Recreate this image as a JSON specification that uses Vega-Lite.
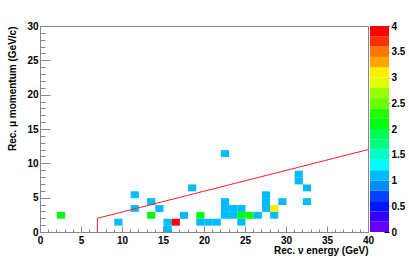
{
  "$schema": "https://vega.github.io/schema/vega-lite/v6.json",
  "padding": {"left": 6, "top": 20, "right": 0, "bottom": 0},
  "background": "white",
  "bounds": "flush",
  "datasets": {
    "cells": [
      {"e": 2, "p": 2, "n": 2},
      {"e": 9, "p": 1, "n": 1},
      {"e": 11, "p": 5, "n": 1},
      {"e": 11, "p": 3, "n": 1},
      {"e": 13, "p": 4, "n": 1},
      {"e": 13, "p": 2, "n": 2},
      {"e": 14, "p": 3, "n": 1},
      {"e": 15, "p": 1, "n": 1},
      {"e": 15, "p": 0, "n": 1},
      {"e": 16, "p": 1, "n": 4},
      {"e": 17, "p": 2, "n": 1},
      {"e": 18, "p": 6, "n": 1},
      {"e": 19, "p": 2, "n": 2},
      {"e": 19, "p": 1, "n": 1},
      {"e": 20, "p": 1, "n": 1},
      {"e": 21, "p": 1, "n": 1},
      {"e": 22, "p": 11, "n": 1},
      {"e": 22, "p": 4, "n": 1},
      {"e": 22, "p": 3, "n": 1},
      {"e": 22, "p": 2, "n": 1},
      {"e": 23, "p": 3, "n": 1},
      {"e": 23, "p": 2, "n": 1},
      {"e": 24, "p": 3, "n": 1},
      {"e": 24, "p": 2, "n": 2},
      {"e": 24, "p": 1, "n": 1},
      {"e": 25, "p": 2, "n": 2},
      {"e": 26, "p": 2, "n": 1},
      {"e": 27, "p": 5, "n": 1},
      {"e": 27, "p": 4, "n": 1},
      {"e": 27, "p": 3, "n": 1},
      {"e": 28, "p": 3, "n": 3},
      {"e": 28, "p": 2, "n": 1},
      {"e": 29, "p": 4, "n": 1},
      {"e": 31, "p": 8, "n": 1},
      {"e": 31, "p": 7, "n": 1},
      {"e": 32, "p": 6, "n": 1},
      {"e": 32, "p": 4, "n": 1}
    ],
    "cut": [
      {"i": 0, "e": 7, "p": 0},
      {"i": 1, "e": 7, "p": 2},
      {"i": 2, "e": 40, "p": 12}
    ],
    "levels": [
      {"lo": 0, "hi": 0.2}, {"lo": 0.2, "hi": 0.4}, {"lo": 0.4, "hi": 0.6}, {"lo": 0.6, "hi": 0.8},
      {"lo": 0.8, "hi": 1}, {"lo": 1, "hi": 1.2}, {"lo": 1.2, "hi": 1.4}, {"lo": 1.4, "hi": 1.6},
      {"lo": 1.6, "hi": 1.8}, {"lo": 1.8, "hi": 2}, {"lo": 2, "hi": 2.2}, {"lo": 2.2, "hi": 2.4},
      {"lo": 2.4, "hi": 2.6}, {"lo": 2.6, "hi": 2.8}, {"lo": 2.8, "hi": 3}, {"lo": 3, "hi": 3.2},
      {"lo": 3.2, "hi": 3.4}, {"lo": 3.4, "hi": 3.6}, {"lo": 3.6, "hi": 3.8}, {"lo": 3.8, "hi": 4}
    ]
  },
  "spacing": 2,
  "hconcat": [
    {
      "width": 328,
      "height": 206,
      "view": {"stroke": "#888888", "strokeWidth": 1},
      "layer": [
        {
          "data": {"name": "cells"},
          "mark": {"type": "rect"},
          "encoding": {
            "x": {
              "field": "e", "type": "quantitative",
              "bin": {"binned": true, "step": 1},
              "scale": {"domain": [0, 40], "nice": false, "zero": false},
              "axis": {
                "orient": "bottom",
                "values": [0, 5, 10, 15, 20, 25, 30, 35, 40],
                "tickSize": -6,
                "labelPadding": 9,
                "labelFlush": false,
                "title": "Rec. ν energy (GeV)",
                "titleAnchor": "end",
                "titleAlign": "right",
                "titleBaseline": "alphabetic",
                "titleX": 328,
                "titleY": 21
              }
            },
            "y": {
              "field": "p", "type": "quantitative",
              "bin": {"binned": true, "step": 1},
              "scale": {"domain": [0, 30], "nice": false, "zero": false},
              "axis": {
                "orient": "left",
                "values": [0, 5, 10, 15, 20, 25, 30],
                "tickSize": -10,
                "labelPadding": 12,
                "labelFlush": false,
                "title": "Rec. μ momentum (GeV/c)",
                "titleAnchor": "end",
                "titleAngle": -90,
                "titleAlign": "right",
                "titleBaseline": "bottom",
                "titleX": -23,
                "titleY": 0
              }
            },
            "color": {
              "field": "n", "type": "quantitative",
              "scale": {
                "type": "threshold",
                "domain": [0.2, 0.4, 0.6, 0.8, 1, 1.2, 1.4, 1.6, 1.8, 2, 2.2, 2.4, 2.6, 2.8, 3, 3.2, 3.4, 3.6, 3.8],
                "range": ["#6300ff", "#3300ff", "#0014ff", "#0044ff", "#008bff", "#00bbff", "#00fffc", "#00ffcc", "#00ff85", "#00ff55", "#00ff0e", "#22ff00", "#69ff00", "#99ff00", "#e0ff00", "#ffee00", "#ffa700", "#ff7700", "#ff3000", "#ff0000"]
              },
              "legend": null
            }
          }
        },
        {
          "data": {"name": "cut"},
          "mark": {"type": "line", "color": "#ff2020", "strokeWidth": 1},
          "encoding": {
            "x": {
              "field": "e", "type": "quantitative",
              "axis": {
                "orient": "bottom",
                "values": [0,1,2,3,4,5,6,7,8,9,10,11,12,13,14,15,16,17,18,19,20,21,22,23,24,25,26,27,28,29,30,31,32,33,34,35,36,37,38,39,40],
                "tickSize": -3,
                "labels": false,
                "domain": false,
                "title": null
              }
            },
            "y": {
              "field": "p", "type": "quantitative",
              "axis": {
                "orient": "left",
                "values": [0,1,2,3,4,5,6,7,8,9,10,11,12,13,14,15,16,17,18,19,20,21,22,23,24,25,26,27,28,29,30],
                "tickSize": -5,
                "labels": false,
                "domain": false,
                "title": null
              }
            },
            "order": {"field": "i", "type": "quantitative"}
          }
        }
      ],
      "resolve": {"axis": {"x": "independent", "y": "independent"}}
    },
    {
      "width": 19,
      "height": 206,
      "data": {"name": "levels"},
      "mark": {"type": "rect"},
      "encoding": {
        "y": {
          "field": "lo", "type": "quantitative",
          "scale": {"domain": [0, 4], "nice": false, "zero": false},
          "axis": {
            "orient": "right",
            "values": [0, 0.5, 1, 1.5, 2, 2.5, 3, 3.5, 4],
            "tickSize": -5,
            "tickColor": "black",
            "domain": false,
            "labelPadding": 7,
            "labelFlush": false,
            "labelExpr": "'' + datum.value",
            "title": null
          }
        },
        "y2": {"field": "hi"},
        "color": {
          "field": "lo", "type": "quantitative",
          "scale": {
            "type": "threshold",
            "domain": [0.2, 0.4, 0.6, 0.8, 1, 1.2, 1.4, 1.6, 1.8, 2, 2.2, 2.4, 2.6, 2.8, 3, 3.2, 3.4, 3.6, 3.8],
            "range": ["#6300ff", "#3300ff", "#0014ff", "#0044ff", "#008bff", "#00bbff", "#00fffc", "#00ffcc", "#00ff85", "#00ff55", "#00ff0e", "#22ff00", "#69ff00", "#99ff00", "#e0ff00", "#ffee00", "#ffa700", "#ff7700", "#ff3000", "#ff0000"]
          },
          "legend": null
        }
      }
    }
  ],
  "resolve": {"scale": {"color": "independent"}},
  "config": {
    "view": {"stroke": null},
    "axis": {
      "grid": false,
      "labelFont": "Liberation Sans",
      "labelFontWeight": "bold",
      "labelFontSize": 10,
      "labelColor": "black",
      "titleFont": "Liberation Sans",
      "titleFontWeight": "bold",
      "titleFontSize": 10,
      "titleColor": "black",
      "domainColor": "#888888",
      "tickColor": "#888888",
      "domainWidth": 1,
      "tickWidth": 1
    }
  }
}
